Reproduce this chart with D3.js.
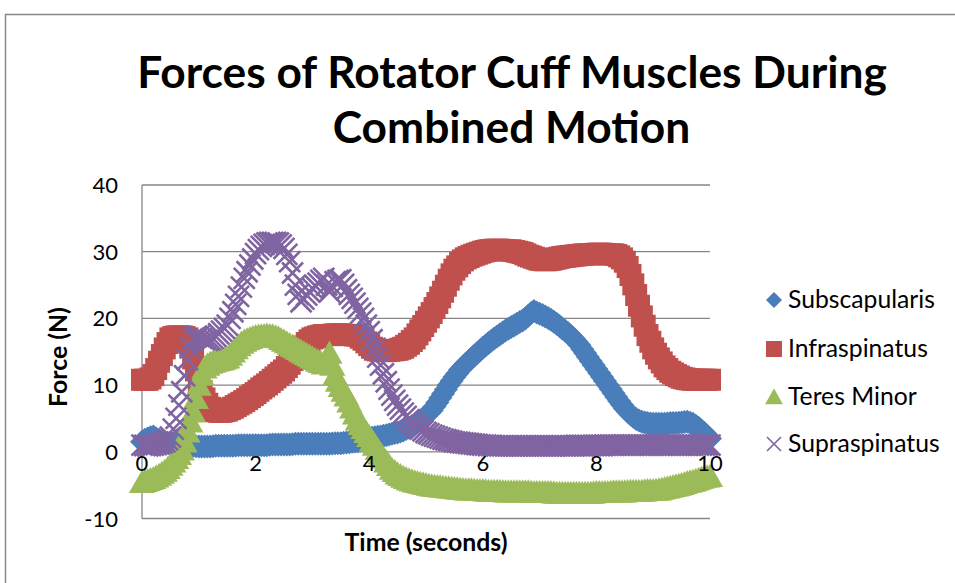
<!DOCTYPE html>
<html><head><meta charset="utf-8">
<script src="https://cdn.jsdelivr.net/npm/d3@7/dist/d3.min.js"></script>
<style>
body{margin:0;background:#fff}
svg{display:block}
text{font-family:Lato,"Open Sans",sans-serif;fill:#000}
</style>
</head><body>
<svg id="c" width="955" height="583"></svg>
<script>
const titleLines = ["Forces of Rotator Cuff Muscles During", "Combined Motion"];
const xTitle = "Time (seconds)";
const yTitle = "Force (N)";
const seriesNames = ["Subscapularis", "Infraspinatus", "Teres Minor", "Supraspinatus"];
const seriesColors = ["#4A7EBB", "#C0504D", "#9BBB59", "#8064A2"];
const xTicks = [0, 2, 4, 6, 8, 10];
const yTicks = [-10, 0, 10, 20, 30, 40];
// sample times (seconds), one every 0.05 s from 0 to 10
const times = d3.range(0, 201).map(i => i / 20);

const subscapularis = [
 1.5,1.8,2.0,2.2,2.3,2.0,1.8,1.6,1.5,1.4,1.3,1.25,1.2,1.15,1.1,1.05,1.0,0.95,0.9,0.85,
 0.8,0.8,0.8,0.8,0.8,0.85,0.9,0.9,0.9,0.9,0.9,0.9,0.9,0.95,1.0,1.0,1.0,1.0,1.0,1.0,
 1.0,1.0,1.0,1.0,1.0,1.05,1.1,1.1,1.1,1.1,1.1,1.1,1.1,1.15,1.2,1.2,1.2,1.2,1.2,1.2,
 1.2,1.2,1.2,1.2,1.2,1.2,1.2,1.25,1.3,1.3,1.3,1.35,1.4,1.45,1.5,1.55,1.6,1.7,1.8,1.9,
 2.0,2.1,2.2,2.25,2.3,2.4,2.5,2.6,2.7,2.8,2.9,3.05,3.2,3.4,3.6,3.85,4.1,4.4,4.7,5.05,
 5.4,5.8,6.2,6.8,7.4,8.05,8.7,9.35,10.0,10.6,11.2,11.75,12.3,12.75,13.2,13.6,14.0,14.4,14.8,15.2,
 15.6,15.95,16.3,16.65,17.0,17.3,17.6,17.9,18.2,18.45,18.7,18.95,19.2,19.45,19.7,20.0,20.4,20.8,21.1,20.9,
 20.7,20.5,20.3,20.05,19.8,19.5,19.2,18.85,18.5,18.15,17.8,17.4,17.0,16.5,16.0,15.4,14.8,14.2,13.6,13.0,
 12.4,11.8,11.2,10.6,10.0,9.4,8.8,8.2,7.6,7.05,6.5,6.05,5.6,5.25,4.9,4.7,4.5,4.4,4.3,4.25,
 4.2,4.2,4.2,4.2,4.2,4.25,4.3,4.3,4.3,4.35,4.4,4.45,4.5,4.35,4.2,3.9,3.6,3.2,2.8,2.4,2.0
];
const infraspinatus = [
 10.8,10.8,10.8,11.0,11.5,12.4,13.5,14.5,15.5,16.3,17.0,17.2,17.3,17.3,17.3,17.2,17.0,15.8,14.0,12.2,
 10.5,9.1,8.0,7.2,6.6,6.3,6.1,6.0,6.0,6.1,6.2,6.4,6.6,6.85,7.1,7.35,7.6,7.9,8.2,8.5,
 8.8,9.15,9.5,9.8,10.1,10.45,10.8,11.15,11.5,11.85,12.2,12.7,13.2,13.75,14.3,14.8,15.3,15.8,16.3,16.7,
 17.0,17.15,17.3,17.4,17.5,17.5,17.5,17.55,17.6,17.6,17.6,17.55,17.5,17.5,17.5,17.45,17.4,17.1,16.8,16.4,
 16.0,15.6,15.3,15.2,15.1,15.1,15.1,15.15,15.2,15.25,15.3,15.45,15.6,15.9,16.2,16.6,17.0,17.6,18.2,18.85,
 19.5,20.15,20.8,21.55,22.3,23.15,24.0,24.9,25.8,26.6,27.3,27.8,28.3,28.7,29.0,29.2,29.4,29.55,29.7,29.85,
 30.0,30.1,30.2,30.25,30.3,30.3,30.3,30.25,30.2,30.2,30.2,30.1,30.0,29.9,29.8,29.6,29.4,29.25,29.1,28.95,
 28.8,28.75,28.7,28.75,28.8,28.9,29.0,29.1,29.2,29.25,29.3,29.35,29.4,29.45,29.5,29.55,29.6,29.6,29.6,29.65,
 29.7,29.7,29.7,29.65,29.6,29.6,29.6,29.5,29.3,29.0,28.5,27.7,26.5,25.1,23.5,21.9,20.3,18.9,17.5,16.5,
 15.5,14.7,14.0,13.4,12.8,12.4,12.0,11.75,11.5,11.3,11.1,11.0,10.9,10.85,10.8,10.8,10.8,10.8,10.8,10.8,10.8
];
const teresMinor = [
 -4.6,-4.45,-4.3,-4.15,-4.0,-3.75,-3.5,-3.2,-2.9,-2.5,-2.0,-1.5,-1.0,-0.4,0.3,1.5,3.0,4.5,6.0,8.0,
 10.0,11.5,12.6,13.0,13.3,13.45,13.6,13.7,13.8,13.95,14.1,14.5,15.0,15.45,15.9,16.3,16.6,16.8,17.0,17.15,
 17.3,17.35,17.4,17.45,17.5,17.45,17.4,17.25,17.1,16.85,16.6,16.35,16.1,15.85,15.6,15.35,15.1,14.85,14.6,14.35,
 14.1,13.85,13.6,13.4,13.2,13.6,14.8,13.0,11.5,10.6,9.8,9.1,8.4,7.5,6.6,5.7,4.8,4.1,3.5,2.9,
 2.3,1.65,1.0,0.35,-0.3,-0.9,-1.5,-2.05,-2.6,-2.95,-3.3,-3.55,-3.8,-4.0,-4.2,-4.35,-4.5,-4.6,-4.7,-4.8,
 -4.9,-5.0,-5.1,-5.15,-5.2,-5.25,-5.3,-5.35,-5.4,-5.45,-5.5,-5.55,-5.6,-5.65,-5.7,-5.7,-5.7,-5.75,-5.8,-5.8,
 -5.8,-5.85,-5.9,-5.9,-5.9,-5.9,-5.9,-5.95,-6.0,-6.0,-6.0,-6.0,-6.0,-6.0,-6.0,-6.0,-6.0,-6.05,-6.1,-6.1,
 -6.1,-6.1,-6.1,-6.1,-6.1,-6.15,-6.2,-6.2,-6.2,-6.2,-6.2,-6.2,-6.2,-6.2,-6.2,-6.2,-6.2,-6.2,-6.2,-6.15,
 -6.1,-6.1,-6.1,-6.1,-6.1,-6.05,-6.0,-6.0,-6.0,-6.0,-6.0,-5.95,-5.9,-5.9,-5.9,-5.9,-5.9,-5.85,-5.8,-5.8,
 -5.8,-5.75,-5.7,-5.6,-5.5,-5.4,-5.3,-5.2,-5.1,-5.0,-4.9,-4.75,-4.6,-4.5,-4.4,-4.25,-4.1,-3.95,-3.8,-3.75,-3.7
];
const supraspinatus = [
 1.0,0.95,0.9,0.95,1.0,1.1,1.2,1.35,1.5,1.8,2.2,3.4,5.0,7.0,9.0,11.4,13.8,15.6,17.0,17.3,
 17.3,17.0,16.8,16.7,16.8,17.0,17.3,17.7,18.1,18.5,19.0,20.0,21.0,22.1,23.3,24.7,26.0,27.0,28.0,28.9,
 29.7,30.3,30.8,31.1,31.3,31.4,31.4,31.4,31.3,31.0,30.5,29.6,28.5,26.8,25.0,23.6,22.5,22.9,23.5,24.0,
 24.5,24.9,25.3,25.7,26.0,25.0,24.0,24.8,25.5,25.7,25.8,25.1,24.3,23.6,23.0,22.3,21.5,20.8,20.0,19.0,
 18.0,16.8,15.5,14.2,13.0,11.7,10.5,9.4,8.5,7.7,7.0,6.4,5.8,5.3,4.8,4.4,4.0,3.7,3.4,3.15,
 2.9,2.7,2.5,2.35,2.2,2.05,1.9,1.8,1.7,1.6,1.5,1.45,1.4,1.35,1.3,1.25,1.2,1.15,1.1,1.05,
 1.0,1.0,0.95,0.95,0.9,0.9,0.9,0.9,0.9,0.9,0.9,0.9,0.9,0.9,0.9,0.9,0.9,0.9,0.9,0.9,
 0.9,0.9,0.9,0.9,0.9,0.9,0.9,0.9,0.9,0.9,0.9,0.9,0.9,0.95,0.95,0.95,0.95,0.95,0.95,0.95,
 0.95,0.95,0.95,1.0,1.0,1.0,1.0,1.0,1.0,1.0,1.0,1.0,1.0,1.0,1.0,1.0,1.0,1.0,1.0,1.0,
 1.0,1.0,1.0,1.0,1.0,1.0,1.0,1.0,1.0,1.0,1.0,1.0,1.0,1.0,1.0,1.0,1.0,1.0,1.0,1.0,1.0
];
const seriesValues = [subscapularis, infraspinatus, teresMinor, supraspinatus];

const svg = d3.select("#c");
const x = d3.scaleLinear().domain([0, 10]).range([142, 710]);
const y = d3.scaleLinear().domain([-10, 40]).range([518.5, 185]);
const gridColor = "#868686";

// outer chart border
svg.append("rect").attr("x", 5.5).attr("y", 14.5).attr("width", 1000).attr("height", 700)
  .attr("fill", "#fff").attr("stroke", "#898989").attr("stroke-width", 1.5);

function fit(sel, target) {
  const m = sel.node().getComputedTextLength();
  const fs = parseFloat(sel.attr("font-size"));
  sel.attr("font-size", fs * target / m);
}

// title
const t1 = svg.append("text").attr("x", 512).attr("y", 88).attr("text-anchor", "middle")
  .attr("font-weight", "bold").attr("font-size", 44).text(titleLines[0]);
fit(t1, 750);
svg.append("text").attr("x", 511.5).attr("y", 143).attr("text-anchor", "middle")
  .attr("font-weight", "bold").attr("font-size", t1.attr("font-size")).text(titleLines[1]);

// gridlines
const g = svg.append("g");
g.selectAll("line.grid").data(yTicks).join("line").attr("class", "grid")
  .attr("x1", x(0)).attr("x2", x(10)).attr("y1", d => y(d)).attr("y2", d => y(d))
  .attr("stroke", gridColor).attr("stroke-width", 1.3);
g.append("line").attr("x1", x(0)).attr("x2", x(0)).attr("y1", y(40)).attr("y2", y(-10))
  .attr("stroke", gridColor).attr("stroke-width", 1.3);

// y tick labels
svg.append("g").selectAll("text").data(yTicks).join("text")
  .attr("x", 118).attr("y", d => y(d) + 8).attr("text-anchor", "end")
  .attr("font-size", 22).text(d => d);

// markers
const plot = svg.append("g");
function drawMarker(sel, i, s, sw) {
  const c = seriesColors[i];
  if (i === 0) {
    sel.append("path").attr("d", `M0,${-s}L${s},0L0,${s}L${-s},0Z`).attr("fill", c);
  } else if (i === 1) {
    sel.append("rect").attr("x", -s).attr("y", -s).attr("width", 2 * s).attr("height", 2 * s).attr("fill", c);
  } else if (i === 2) {
    sel.append("path").attr("d", `M0,${-s}L${s * 1.05},${s * 0.85}L${-s * 1.05},${s * 0.85}Z`).attr("fill", c);
  } else {
    sel.append("path").attr("d", `M${-s},${-s}L${s},${s}M${-s},${s}L${s},${-s}`)
      .attr("fill", "none").attr("stroke", c).attr("stroke-width", sw || 1.6);
  }
}
const sizes = [12, 11, 12.5, 10.5];
seriesValues.forEach((vals, i) => {
  const sg = plot.append("g");
  times.forEach((t, k) => {
    const m = sg.append("g").attr("transform", `translate(${x(t)},${y(vals[k])})`);
    drawMarker(m, i, sizes[i], 2.6);
  });
});

// x tick labels (at the zero line)
svg.append("g").selectAll("text").data(xTicks).join("text")
  .attr("x", d => x(d)).attr("y", y(0) + 19).attr("text-anchor", "middle")
  .attr("font-size", 22).text(d => d);

// axis titles
const xt = svg.append("text").attr("x", 426).attr("y", 551).attr("text-anchor", "middle")
  .attr("font-weight", "bold").attr("font-size", 22).text(xTitle);
fit(xt, 163);
svg.append("text").attr("transform", "translate(67,357) rotate(-90)")
  .attr("text-anchor", "middle").attr("font-weight", "bold").attr("font-size", xt.attr("font-size")).text(yTitle);

// legend
const legY = [300, 349, 397, 444];
const legSizes = [8, 8, 8.5, 7];
const lg = svg.append("g");
let legFont = 22;
seriesNames.forEach((n, i) => {
  const m = lg.append("g").attr("transform", `translate(774,${legY[i]})`);
  drawMarker(m, i, legSizes[i], 1.6);
  const tx = lg.append("text").attr("x", 788).attr("y", legY[i] + 8).attr("font-size", legFont).text(n);
  if (i === 0) { fit(tx, 147); legFont = tx.attr("font-size"); }
});
</script>
</body></html>
